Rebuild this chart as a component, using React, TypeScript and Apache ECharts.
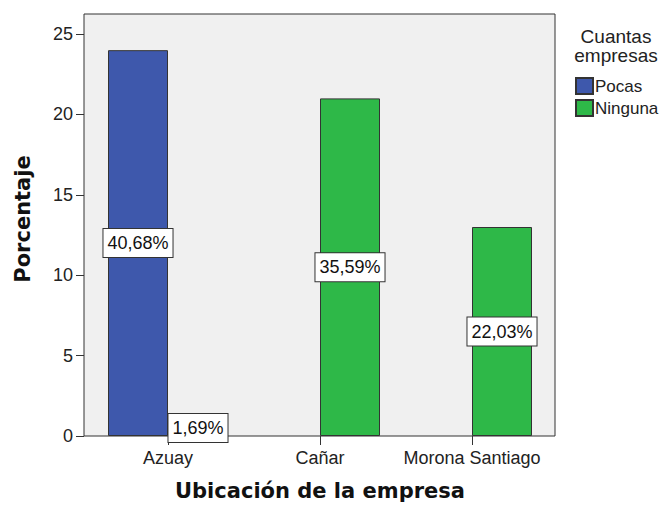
import React, { useEffect, useRef } from "react";
import * as echarts from "echarts";

const categories = ["Azuay", "Cañar", "Morona Santiago"];
const seriesNames = ["Pocas", "Ninguna"];
const pocasValues: (number | null)[] = [24, null, null];
const ningunaValues: (number | null)[] = [1, 21, 13];
const pocasLabels = ["40,68%", "", ""];
const ningunaLabels = ["1,69%", "35,59%", "22,03%"];
const yTicks = [0, 5, 10, 15, 20, 25];

const FONT = "'Liberation Sans', Arial, sans-serif";
const BOLD_FONT = "'DejaVu Sans', Verdana, sans-serif";

export default function App() {
  const ref = useRef<HTMLDivElement>(null);
  useEffect(() => {
    document.body.style.margin = "0";
    if (!ref.current) return;
    const chart = echarts.init(ref.current, null, { renderer: "svg" });
    const labelStyle = {
      show: true,
      position: "inside",
      color: "#111",
      fontFamily: FONT,
      fontSize: 18,
      backgroundColor: "#ffffff",
      borderColor: "#333",
      borderWidth: 1,
      padding: [5, 4, 5, 4],
    };
    chart.setOption({
      animation: false,
      backgroundColor: "#ffffff",
      grid: [
        {
          left: 84,
          top: 14,
          width: 471,
          height: 422,
          show: true,
          backgroundColor: "#f0f0f0",
          borderColor: "#333",
          borderWidth: 1,
        },
        { left: 92, top: 14, width: 456, height: 422, show: false },
      ],
      xAxis: [
        { type: "category", gridIndex: 0, data: categories, show: false },
        {
          type: "category",
          gridIndex: 1,
          data: categories,
          axisLine: { show: false },
          axisTick: { show: true, alignWithLabel: true, length: 9, lineStyle: { color: "#333" } },
          axisLabel: { interval: 0, fontFamily: FONT, fontSize: 18, color: "#222", margin: 13 },
          name: "Ubicación de la empresa",
          nameLocation: "middle",
          nameGap: 44,
          nameTextStyle: { fontFamily: BOLD_FONT, fontWeight: "bold", fontSize: 21, color: "#111" },
        },
      ],
      yAxis: [
        { type: "value", gridIndex: 0, show: false, min: 0, max: 26.25 },
        {
          type: "value",
          gridIndex: 1,
          min: 0,
          max: 26.25,
          interval: 5,
          offset: 8,
          axisLine: { show: false },
          splitLine: { show: false },
          axisTick: { show: true, length: 8, lineStyle: { color: "#333" }, customValues: yTicks },
          axisLabel: { fontFamily: FONT, fontSize: 18, color: "#222", margin: 11, customValues: yTicks },
        },
      ],
      legend: {
        orient: "vertical",
        left: 570,
        top: 72,
        itemWidth: 17,
        itemHeight: 16,
        itemGap: 4,
        icon: "rect",
        data: seriesNames,
        textStyle: { fontFamily: FONT, fontSize: 17, color: "#222", padding: [0, 0, 0, -3] },
      },
      graphic: [
        {
          type: "text",
          x: 616,
          y: 27,
          style: {
            text: "Cuantas\nempresas",
            fontFamily: FONT,
            fontSize: 19,
            lineHeight: 19,
            fill: "#222",
            textAlign: "center",
          },
        },
        {
          type: "text",
          x: 23,
          y: 219,
          rotation: Math.PI / 2,
          style: {
            text: "Porcentaje",
            fontFamily: BOLD_FONT,
            fontWeight: "bold",
            fontSize: 21,
            fill: "#111",
            textAlign: "center",
            textVerticalAlign: "middle",
          },
        },
      ],
      series: [
        {
          name: seriesNames[0],
          type: "bar",
          xAxisIndex: 1,
          yAxisIndex: 1,
          data: pocasValues,
          barWidth: 60,
          barGap: "0%",
          itemStyle: { color: "#3E58AC", borderColor: "#333", borderWidth: 1 },
          label: { ...labelStyle, formatter: (p: any) => pocasLabels[p.dataIndex] },
        },
        {
          name: seriesNames[1],
          type: "bar",
          xAxisIndex: 1,
          yAxisIndex: 1,
          data: ningunaValues,
          barWidth: 60,
          barGap: "0%",
          itemStyle: { color: "#2EB848", borderColor: "#333", borderWidth: 1 },
          label: { ...labelStyle, formatter: (p: any) => ningunaLabels[p.dataIndex] },
        },
      ],
    });
    return () => chart.dispose();
  }, []);
  return <div ref={ref} style={{ width: 666, height: 507 }} />;
}
